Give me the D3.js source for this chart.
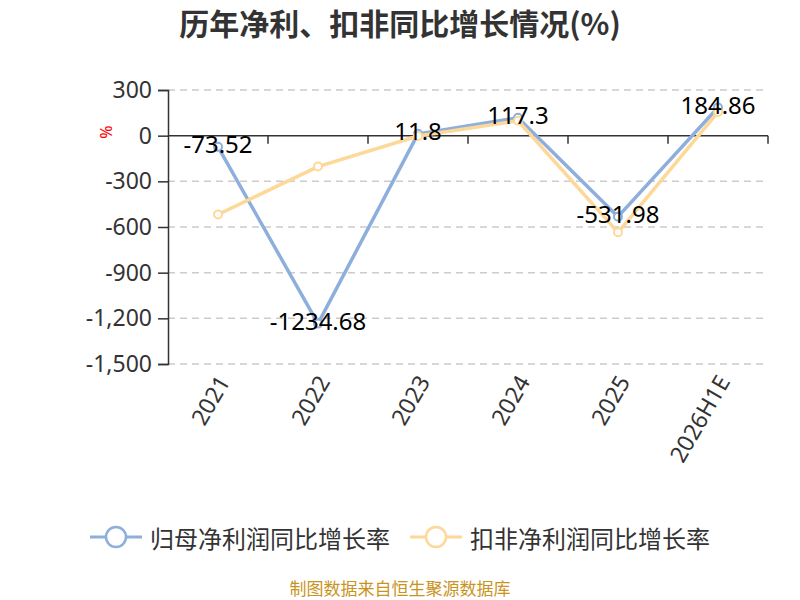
<!DOCTYPE html>
<html>
<head>
<meta charset="utf-8">
<script src="https://cdn.jsdelivr.net/npm/d3@7"></script>
<style>
  body { margin: 0; background: #fff; }
  svg { display: block; }
</style>
</head>
<body>
<svg id="chart" width="800" height="600"></svg>
<script>
const categories = ["2021", "2022", "2023", "2024", "2025", "2026H1E"];
const netProfitGrowth = [-73.52, -1234.68, 11.8, 117.3, -531.98, 184.86];
const deductedGrowth = [-518, -203, -2, 98, -635, 155];
const yTicks = [-1500, -1200, -900, -600, -300, 0, 300];
const seriesNames = ["归母净利润同比增长率", "扣非净利润同比增长率"];
const colors = ["#8eaedc", "#fdd899"];

const svg = d3.select("#chart");
const font = "'Noto Sans', 'Noto Sans CJK SC', sans-serif";
const fmt = d => d3.format(",")(d).replace("−", "-");

const x = d3.scaleBand().domain(categories).range([168, 768]).padding(0);
const y = d3.scaleLinear().domain([-1500, 300]).range([364, 90]);

// title
svg.append("text")
  .attr("x", 400).attr("y", 22)
  .attr("text-anchor", "middle").attr("dominant-baseline", "central")
  .attr("font-family", "'Noto Sans CJK SC', sans-serif")
  .attr("font-weight", "bold").attr("font-size", 30).attr("fill", "#333")
  .text("历年净利、扣非同比增长情况(%)");

// grid lines
svg.append("g").selectAll("line")
  .data(yTicks.filter(d => d !== 0))
  .join("line")
  .attr("x1", 168).attr("x2", 768)
  .attr("y1", d => y(d)).attr("y2", d => y(d))
  .attr("stroke", "#cccccc").attr("stroke-width", 1.5)
  .attr("stroke-dasharray", "7,5");

// y axis
const yAxis = svg.append("g").attr("transform", "translate(168,0)")
  .call(d3.axisLeft(y).tickValues(yTicks).tickSize(10).tickPadding(6).tickFormat(fmt));
yAxis.select(".domain").attr("stroke", "#333").attr("stroke-width", 1.5);
yAxis.selectAll(".tick line").attr("stroke", "#333").attr("stroke-width", 1.5);
yAxis.selectAll(".tick text").attr("font-family", font).attr("font-size", 23).attr("fill", "#333");

// "%" unit label
svg.append("text")
  .attr("transform", "translate(106,132) rotate(-90)")
  .attr("text-anchor", "middle").attr("dominant-baseline", "central")
  .attr("font-family", font).attr("font-size", 16).attr("fill", "#ff0000")
  .text("%");

// x axis at zero
const xAxisG = svg.append("g").attr("transform", `translate(0,${y(0)})`);
xAxisG.append("line")
  .attr("x1", 168).attr("x2", 768).attr("y1", 0).attr("y2", 0)
  .attr("stroke", "#333").attr("stroke-width", 1.5);
xAxisG.selectAll("line.tk")
  .data(categories)
  .join("line").attr("class", "tk")
  .attr("x1", d => x(d) + x.bandwidth()).attr("x2", d => x(d) + x.bandwidth())
  .attr("y1", 0).attr("y2", 8)
  .attr("stroke", "#333").attr("stroke-width", 1.5);

// x labels at bottom
svg.append("g").selectAll("text")
  .data(categories)
  .join("text")
  .attr("transform", d => `translate(${x(d) + x.bandwidth() / 2 + 5},${y(-1500) + 13}) rotate(-60)`)
  .attr("text-anchor", "end").attr("dominant-baseline", "central")
  .attr("font-family", font).attr("font-size", 23).attr("fill", "#333")
  .text(d => d);

// lines
const line = d3.line()
  .x((d, i) => x(categories[i]) + x.bandwidth() / 2)
  .y(d => y(d));

[netProfitGrowth, deductedGrowth].forEach((vals, si) => {
  svg.append("path")
    .datum(vals)
    .attr("d", line)
    .attr("fill", "none")
    .attr("stroke", colors[si]).attr("stroke-width", 3.5)
    .attr("stroke-linejoin", "round");
  svg.append("g").selectAll("circle")
    .data(vals)
    .join("circle")
    .attr("cx", (d, i) => x(categories[i]) + x.bandwidth() / 2)
    .attr("cy", d => y(d))
    .attr("r", 4)
    .attr("fill", "#fff")
    .attr("stroke", colors[si]).attr("stroke-width", 2);
});

// data labels for first series
svg.append("g").selectAll("text")
  .data(netProfitGrowth)
  .join("text")
  .attr("x", (d, i) => x(categories[i]) + x.bandwidth() / 2)
  .attr("y", d => y(d) - 3)
  .attr("text-anchor", "middle").attr("dominant-baseline", "central")
  .attr("font-family", font).attr("font-size", 24).attr("fill", "#000")
  .text(d => d);

// legend
const legendItems = [
  { name: seriesNames[0], color: colors[0], x0: 90 },
  { name: seriesNames[1], color: colors[1], x0: 410 }
];
const lg = svg.append("g");
legendItems.forEach(it => {
  lg.append("line")
    .attr("x1", it.x0).attr("x2", it.x0 + 52)
    .attr("y1", 537).attr("y2", 537)
    .attr("stroke", it.color).attr("stroke-width", 3);
  lg.append("circle")
    .attr("cx", it.x0 + 26).attr("cy", 537).attr("r", 10)
    .attr("fill", "#fff").attr("stroke", it.color).attr("stroke-width", 2.5);
  lg.append("text")
    .attr("x", it.x0 + 60).attr("y", 537)
    .attr("dominant-baseline", "central")
    .attr("font-family", "'Noto Sans CJK SC', sans-serif")
    .attr("font-size", 24).attr("fill", "#333")
    .text(it.name);
});

// footer
svg.append("text")
  .attr("x", 400).attr("y", 587)
  .attr("text-anchor", "middle").attr("dominant-baseline", "central")
  .attr("font-family", "'Noto Sans CJK SC', sans-serif")
  .attr("font-size", 17).attr("fill", "#c9941d")
  .text("制图数据来自恒生聚源数据库");
</script>
</body>
</html>
